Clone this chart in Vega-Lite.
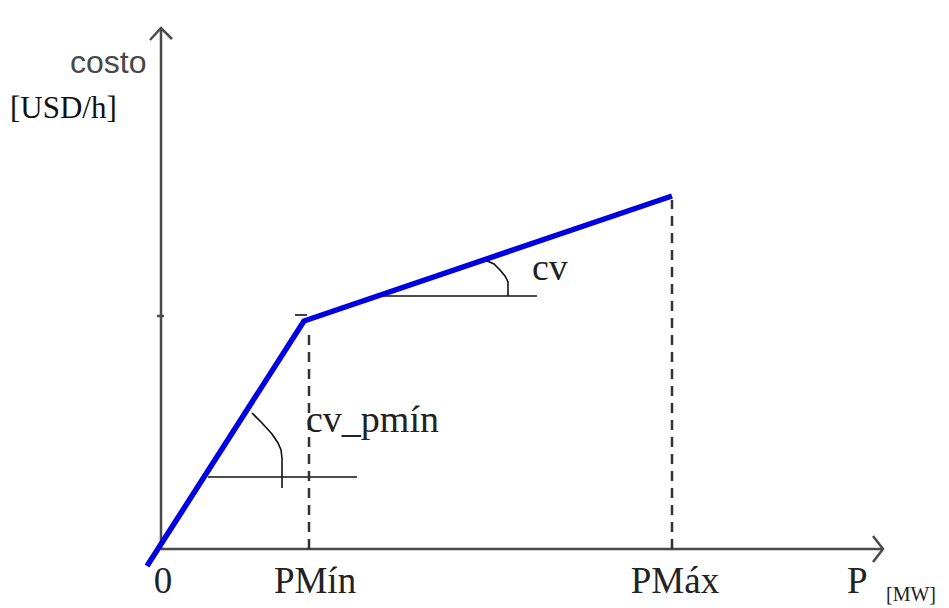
{
  "$schema": "https://vega.github.io/schema/vega-lite/v6.json",
  "width": 949,
  "height": 608,
  "autosize": {"type": "none"},
  "padding": 0,
  "background": "white",
  "config": {"view": {"stroke": null}},
  "datasets": {
    "lines": [
      {"g": "axis", "s": "ya", "i": 0, "x": 0, "y": 0},
      {"g": "axis", "s": "ya", "i": 1, "x": 0, "y": 521},
      {"g": "axis", "s": "xa", "i": 0, "x": 0, "y": 0},
      {"g": "axis", "s": "xa", "i": 1, "x": 722, "y": 0},
      {"g": "axis", "s": "yarr", "i": 0, "x": -11, "y": 509},
      {"g": "axis", "s": "yarr", "i": 1, "x": 0, "y": 521},
      {"g": "axis", "s": "yarr", "i": 2, "x": 11, "y": 510},
      {"g": "axis", "s": "xarr", "i": 0, "x": 712, "y": 13},
      {"g": "axis", "s": "xarr", "i": 1, "x": 722, "y": 0},
      {"g": "axis", "s": "xarr", "i": 2, "x": 712, "y": -13},
      {"g": "axis", "s": "ytick", "i": 0, "x": -4, "y": 233},
      {"g": "axis", "s": "ytick", "i": 1, "x": 3, "y": 233},
      {"g": "blue", "s": "b", "i": 0, "x": -14, "y": -17},
      {"g": "blue", "s": "b", "i": 1, "x": 143, "y": 228},
      {"g": "blue", "s": "b", "i": 2, "x": 511, "y": 353},
      {"g": "thin", "s": "h1", "i": 0, "x": 47, "y": 72},
      {"g": "thin", "s": "h1", "i": 1, "x": 196, "y": 72},
      {"g": "thin", "s": "h2", "i": 0, "x": 217, "y": 253},
      {"g": "thin", "s": "h2", "i": 1, "x": 376, "y": 253},
      {"g": "thin", "s": "a1", "i": 0, "x": 91, "y": 136},
      {"g": "thin", "s": "a1", "i": 1, "x": 101, "y": 126},
      {"g": "thin", "s": "a1", "i": 2, "x": 111, "y": 115},
      {"g": "thin", "s": "a1", "i": 3, "x": 117, "y": 106},
      {"g": "thin", "s": "a1", "i": 4, "x": 120, "y": 99},
      {"g": "thin", "s": "a1", "i": 5, "x": 121, "y": 91},
      {"g": "thin", "s": "a1", "i": 6, "x": 121, "y": 61},
      {"g": "thin", "s": "a2", "i": 0, "x": 324, "y": 289},
      {"g": "thin", "s": "a2", "i": 1, "x": 333, "y": 285},
      {"g": "thin", "s": "a2", "i": 2, "x": 339, "y": 279},
      {"g": "thin", "s": "a2", "i": 3, "x": 344, "y": 273},
      {"g": "thin", "s": "a2", "i": 4, "x": 347, "y": 267},
      {"g": "thin", "s": "a2", "i": 5, "x": 347, "y": 253},
      {"g": "thin", "s": "cap", "i": 0, "x": 134, "y": 234},
      {"g": "thin", "s": "cap", "i": 1, "x": 146, "y": 234},
      {"g": "dash", "s": "d1", "i": 0, "x": 148, "y": 0},
      {"g": "dash", "s": "d1", "i": 1, "x": 148, "y": 215},
      {"g": "dash", "s": "d2", "i": 0, "x": 511, "y": 0},
      {"g": "dash", "s": "d2", "i": 1, "x": 511, "y": 349}
    ],
    "labels": [
      {"k": "sans", "label": "costo", "x": -91, "y": 476},
      {"k": "serifL", "label": "[USD/h]", "x": -151, "y": 431},
      {"k": "serifC", "label": "0", "x": 2, "y": -44},
      {"k": "serifC", "label": "PMín", "x": 154, "y": -44},
      {"k": "serifC", "label": "PMáx", "x": 514, "y": -44},
      {"k": "serifP", "label": "P", "x": 686, "y": -44},
      {"k": "small", "label": "[MW]", "x": 725, "y": -52},
      {"k": "serifM", "label": "cv", "x": 371, "y": 269},
      {"k": "serifM", "label": "cv_pmín", "x": 145, "y": 117}
    ]
  },
  "encoding": {
    "x": {"field": "x", "type": "quantitative", "axis": null, "scale": {"domain": [-161, 788], "nice": false, "zero": false}},
    "y": {"field": "y", "type": "quantitative", "axis": null, "scale": {"domain": [-59, 549], "nice": false, "zero": false}}
  },
  "layer": [
    {
      "data": {"name": "lines"},
      "transform": [{"filter": "datum.g === 'axis'"}],
      "mark": {"type": "line", "color": "#4a4a4a", "strokeWidth": 2.5, "clip": false},
      "encoding": {"detail": {"field": "s"}, "order": {"field": "i", "type": "quantitative"}}
    },
    {
      "data": {"name": "lines"},
      "transform": [{"filter": "datum.g === 'thin'"}],
      "mark": {"type": "line", "color": "#111111", "strokeWidth": 1.6, "clip": false},
      "encoding": {"detail": {"field": "s"}, "order": {"field": "i", "type": "quantitative"}}
    },
    {
      "data": {"name": "lines"},
      "transform": [{"filter": "datum.g === 'dash'"}],
      "mark": {"type": "line", "color": "#333333", "strokeWidth": 2.5, "strokeDash": [10, 7], "clip": false},
      "encoding": {"detail": {"field": "s"}, "order": {"field": "i", "type": "quantitative"}}
    },
    {
      "data": {"name": "lines"},
      "transform": [{"filter": "datum.g === 'blue'"}],
      "mark": {"type": "line", "color": "#0000e0", "strokeWidth": 5.5, "strokeJoin": "round", "clip": false},
      "encoding": {"detail": {"field": "s"}, "order": {"field": "i", "type": "quantitative"}}
    },
    {
      "data": {"name": "labels"},
      "transform": [{"filter": "datum.k === 'sans'"}],
      "mark": {"type": "text", "font": "Liberation Sans", "fontSize": 32, "color": "#484848", "align": "left", "baseline": "alphabetic"},
      "encoding": {"text": {"field": "label"}}
    },
    {
      "data": {"name": "labels"},
      "transform": [{"filter": "datum.k === 'serifL'"}],
      "mark": {"type": "text", "font": "Liberation Serif", "fontSize": 31, "color": "#111111", "align": "left", "baseline": "alphabetic"},
      "encoding": {"text": {"field": "label"}}
    },
    {
      "data": {"name": "labels"},
      "transform": [{"filter": "datum.k === 'serifC'"}],
      "mark": {"type": "text", "font": "Liberation Serif", "fontSize": 37, "color": "#222222", "align": "center", "baseline": "alphabetic"},
      "encoding": {"text": {"field": "label"}}
    },
    {
      "data": {"name": "labels"},
      "transform": [{"filter": "datum.k === 'serifP'"}],
      "mark": {"type": "text", "font": "Liberation Serif", "fontSize": 37, "color": "#222222", "align": "left", "baseline": "alphabetic"},
      "encoding": {"text": {"field": "label"}}
    },
    {
      "data": {"name": "labels"},
      "transform": [{"filter": "datum.k === 'serifM'"}],
      "mark": {"type": "text", "font": "Liberation Serif", "fontSize": 38, "color": "#222222", "align": "left", "baseline": "alphabetic"},
      "encoding": {"text": {"field": "label"}}
    },
    {
      "data": {"name": "labels"},
      "transform": [{"filter": "datum.k === 'small'"}],
      "mark": {"type": "text", "font": "Liberation Serif", "fontSize": 20, "color": "#222222", "align": "left", "baseline": "alphabetic"},
      "encoding": {"text": {"field": "label"}}
    }
  ]
}
